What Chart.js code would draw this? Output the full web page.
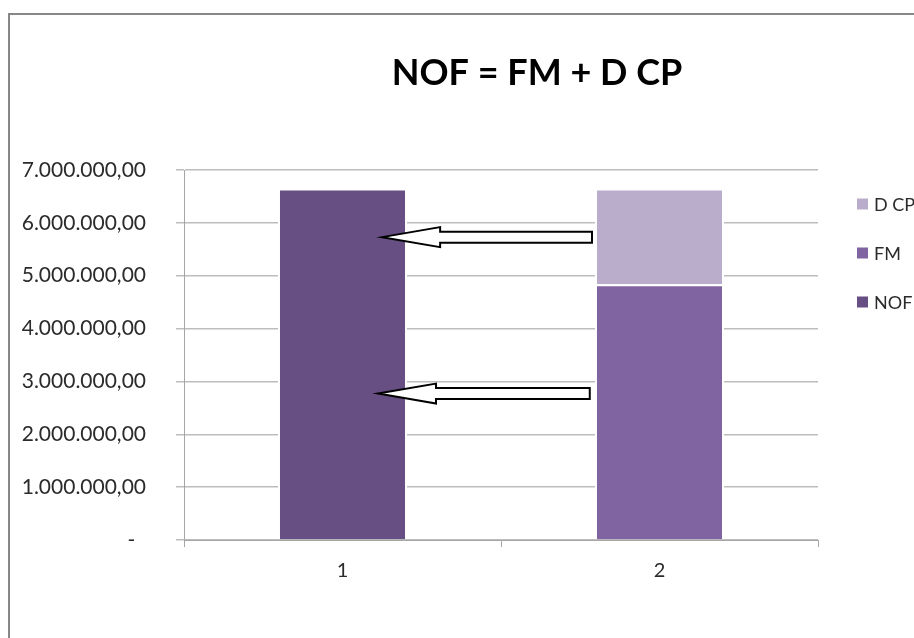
<!DOCTYPE html>
<html>
<head>
<meta charset="utf-8">
<title>NOF = FM + D CP</title>
<script src="https://cdn.jsdelivr.net/npm/chart.js@4/dist/chart.umd.min.js"></script>
<style>
  html, body { margin: 0; padding: 0; background: #fff; }
  canvas { display: block; }
</style>
</head>
<body>
<canvas id="myChart" width="914" height="638"></canvas>
<script>
// Working capital needs vs. working fund + short-term debt
const categories = ['1', '2']
const nofValues = [6650000, null]
const fmValues = [null, 4840000]
const dcpValues = [null, 1810000]
const yMax = 7000000
const yStep = 1000000

// Arrow annotations: level on the value axis, tip and tail in category units
const arrowLevels = [5730000, 2770000]
const arrowTips = [0.125, 0.112]
const arrowTails = [0.787, 0.78]

const titleText = 'NOF = FM + D CP'

Chart.defaults.font.family = 'Lato, "Open Sans", sans-serif'
Chart.defaults.color = '#2b2b2b'

/**
 * Formats an axis value the Spanish way: 7.000.000,00 and a dash for zero.
 */
function formatAmount(value) {
  if (value === 0) return '-  '
  const whole = Math.round(value).toString().replace(/\B(?=(\d{3})+(?!\d))/g, '.')
  return whole + ',00'
}

// Outer frame, title, legend and the two block arrows
const decorations = {
  id: 'decorations',
  beforeDraw(chart) {
    const { ctx, width, height } = chart
    ctx.save()
    ctx.strokeStyle = '#878787'
    ctx.lineWidth = 2
    ctx.beginPath()
    ctx.moveTo(width, 14)
    ctx.lineTo(9, 14)
    ctx.lineTo(9, height)
    ctx.stroke()
    ctx.restore()
  },
  afterDatasetsDraw(chart) {
    const { ctx, scales } = chart
    ctx.save()
    ctx.fillStyle = '#ffffff'
    ctx.strokeStyle = '#000000'
    ctx.lineWidth = 2
    ctx.lineJoin = 'miter'
    arrowLevels.forEach((level, i) => {
      const y = scales.y.getPixelForValue(level)
      const tipX = scales.x.getPixelForValue(arrowTips[i])
      const tailX = scales.x.getPixelForValue(arrowTails[i])
      const headLen = 58
      const headHalf = 10
      const shaftHalf = 5.5
      ctx.beginPath()
      ctx.moveTo(tipX, y)
      ctx.lineTo(tipX + headLen, y - headHalf)
      ctx.lineTo(tipX + headLen, y - shaftHalf)
      ctx.lineTo(tailX, y - shaftHalf)
      ctx.lineTo(tailX, y + shaftHalf)
      ctx.lineTo(tipX + headLen, y + shaftHalf)
      ctx.lineTo(tipX + headLen, y + headHalf)
      ctx.closePath()
      ctx.fill()
      ctx.stroke()
    })
    ctx.restore()
  },
  afterDraw(chart) {
    const { ctx } = chart
    ctx.save()
    ctx.fillStyle = '#000000'
    ctx.font = 'bold 36px Lato, "Open Sans", sans-serif'
    ctx.textAlign = 'center'
    ctx.textBaseline = 'middle'
    ctx.fillText(titleText, 537, 73)

    // legend, last series on top as in the stacked bar
    ctx.font = '18px Lato, "Open Sans", sans-serif'
    ctx.textAlign = 'left'
    const items = chart.data.datasets.slice().reverse()
    items.forEach((ds, i) => {
      const cy = 204 + i * 49
      ctx.fillStyle = ds.backgroundColor
      ctx.fillRect(857, cy - 5.5, 11, 11)
      ctx.fillStyle = '#2b2b2b'
      ctx.fillText(ds.label, 874, cy + 1)
    })
    ctx.restore()
  },
}

const ctx = document.getElementById('myChart')

new Chart(ctx, {
  type: 'bar',
  data: {
    labels: categories,
    datasets: [
      { label: 'NOF', data: nofValues, backgroundColor: '#674f84' },
      { label: 'FM', data: fmValues, backgroundColor: '#8064a2' },
      { label: 'D CP', data: dcpValues, backgroundColor: '#b9adcb' },
    ],
  },
  options: {
    responsive: false,
    animation: false,
    devicePixelRatio: 1,
    layout: { padding: { top: 170, right: 96, bottom: 0, left: 0 } },
    datasets: {
      bar: {
        categoryPercentage: 1,
        barPercentage: 0.407,
        borderColor: '#ffffff',
        borderWidth: 2,
      },
    },
    plugins: {
      legend: { display: false },
      title: { display: false },
      tooltip: { enabled: false },
    },
    scales: {
      x: {
        stacked: true,
        afterFit: (scale) => { scale.height = 98 },
        grid: {
          offset: true,
          drawOnChartArea: false,
          tickLength: 7,
          color: '#a6a6a6',
        },
        border: { color: '#a6a6a6', width: 1 },
        ticks: { padding: 12, font: { size: 20 } },
      },
      y: {
        stacked: true,
        min: 0,
        max: yMax,
        afterFit: (scale) => { scale.width = 184 },
        grid: {
          color: '#bdbdbd',
          lineWidth: 1.5,
          tickLength: 8,
        },
        border: { color: '#a6a6a6', width: 1 },
        ticks: {
          stepSize: yStep,
          padding: 30,
          font: { size: 21 },
          callback: (value) => formatAmount(value),
        },
      },
    },
  },
  plugins: [decorations],
})
</script>
</body>
</html>
